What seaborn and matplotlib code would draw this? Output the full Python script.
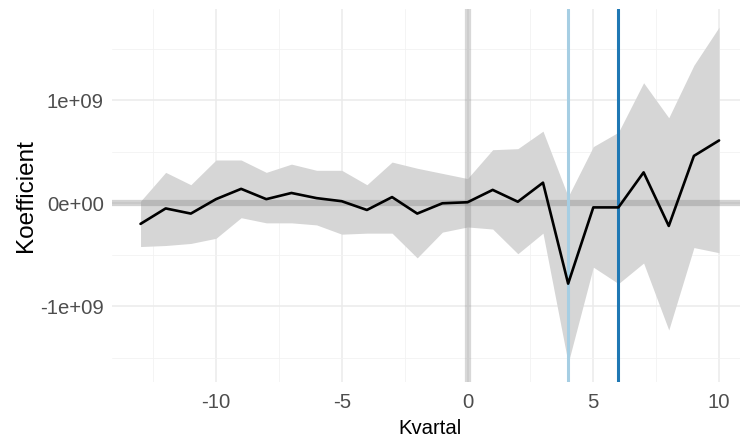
import numpy as np
import pandas as pd
import matplotlib
matplotlib.use("Agg")
import matplotlib.pyplot as plt
import seaborn as sns
from matplotlib.ticker import MultipleLocator, FuncFormatter

# event-study coefficients (values in units of 1e9)
kvartal = list(range(-13, 11))
koef = [-0.20, -0.05, -0.10, 0.04, 0.14, 0.04, 0.10, 0.05, 0.02, -0.065, 0.06, -0.10,
        0.00, 0.01, 0.13, 0.015, 0.20, -0.78, -0.04, -0.04, 0.30, -0.22, 0.46, 0.61]
upper = [0.02, 0.30, 0.18, 0.42, 0.42, 0.30, 0.38, 0.32, 0.32, 0.18, 0.40, 0.34,
         0.29, 0.24, 0.52, 0.53, 0.70, 0.065, 0.55, 0.69, 1.17, 0.83, 1.34, 1.71]
lower = [-0.42, -0.41, -0.39, -0.34, -0.14, -0.19, -0.19, -0.21, -0.30, -0.29, -0.29, -0.53,
         -0.28, -0.23, -0.25, -0.49, -0.29, -1.55, -0.62, -0.78, -0.58, -1.23, -0.43, -0.48]

df = pd.DataFrame({
    'Kvartal': kvartal,
    'Koefficient': np.array(koef) * 1e9,
    'upper': np.array(upper) * 1e9,
    'lower': np.array(lower) * 1e9,
})

sns.set_style("white")
plt.rcParams['font.family'] = ['Liberation Sans', 'DejaVu Sans']

fig = plt.figure(figsize=(7.4, 4.43), dpi=100)
# panel runs a little past the right edge, like the cropped original
ax = fig.add_axes([111.6 / 740, 1 - 382 / 443, 636.4 / 740, 373 / 443])

# grid like ggplot theme_minimal
ax.xaxis.set_major_locator(MultipleLocator(5))
ax.xaxis.set_minor_locator(MultipleLocator(2.5))
ax.yaxis.set_major_locator(MultipleLocator(1e9))
ax.yaxis.set_minor_locator(MultipleLocator(0.5e9))
ax.grid(True, which='major', color='#ebebeb', linewidth=1.1)
ax.grid(True, which='minor', color='#f2f2f2', linewidth=0.6)
ax.set_axisbelow(True)

ax.fill_between(df['Kvartal'], df['lower'], df['upper'], color='#d6d6d6', linewidth=0, zorder=2)
ax.axhline(0, color='grey', alpha=0.35, linewidth=4.5, zorder=3)
ax.axvline(0, color='grey', alpha=0.3, linewidth=4.5, zorder=3)
ax.axvline(4, color='#a6cee3', linewidth=2.2, zorder=4)
ax.axvline(6, color='#1f78b4', linewidth=2.2, zorder=4)
sns.lineplot(data=df, x='Kvartal', y='Koefficient', color='black', linewidth=1.9, ax=ax, zorder=5)

ax.set_xlim(-14.15, 11.15)
ax.set_ylim(-1.735e9, 1.886e9)

def sci(v, pos):
    if abs(v) < 1:
        return '0e+00'
    return f"{v / 1e9:.0f}e+09"

ax.yaxis.set_major_formatter(FuncFormatter(sci))
ax.xaxis.set_major_formatter(FuncFormatter(lambda v, p: f"{v:.0f}"))

for s in ax.spines.values():
    s.set_visible(False)
ax.tick_params(axis='both', which='major', length=4, width=0.8, color='#4d4d4d',
               labelcolor='#4d4d4d', labelsize=14.6)
ax.tick_params(axis='x', which='major', pad=4)
ax.tick_params(axis='y', which='major', pad=1.5)
ax.tick_params(axis='both', which='minor', length=0)

ax.set_xlabel('Kvartal', fontsize=14.6, color='black')
ax.set_ylabel('Koefficient', fontsize=17.5, color='black')
ax.xaxis.set_label_coords(0.5, -0.10)
ax.yaxis.set_label_coords(-0.117, 0.5)

fig.savefig('out.png', dpi=100)
